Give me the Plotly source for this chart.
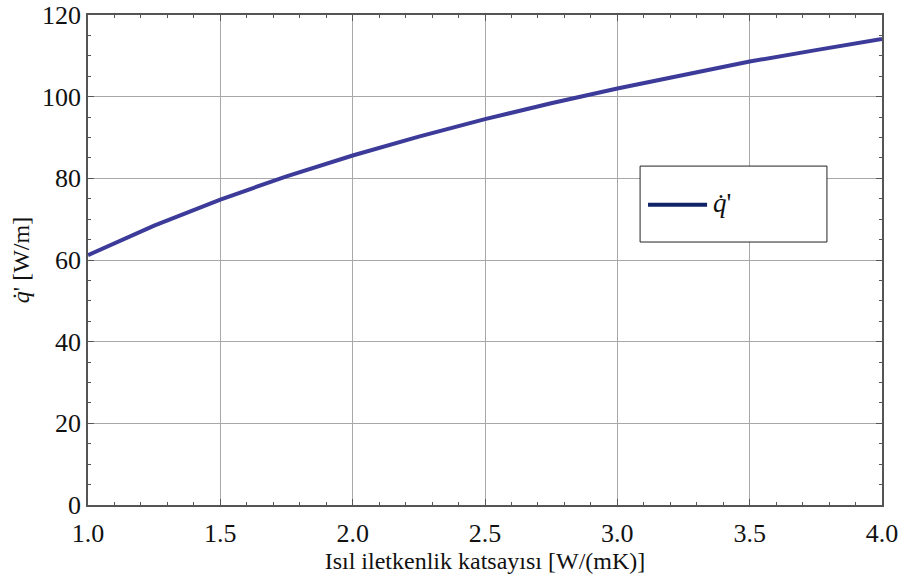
import plotly.graph_objects as go

# Thermal conductivity (W/(mK)) and heat transfer per unit length (W/m)
conductivity = [1.0, 1.25, 1.5, 1.75, 2.0, 2.25, 2.5, 2.75, 3.0, 3.25, 3.5, 3.75, 4.0]
heat_rate = [61.2, 68.4, 74.8, 80.5, 85.6, 90.2, 94.5, 98.4, 102.0, 105.4, 108.6, 111.4, 114.1]

x_ticks = [1.0, 1.5, 2.0, 2.5, 3.0, 3.5, 4.0]
x_tick_labels = ["1.0", "1.5", "2.0", "2.5", "3.0", "3.5", "4.0"]
y_ticks = [0, 20, 40, 60, 80, 100, 120]
y_tick_labels = ["0", "20", "40", "60", "80", "100", "120"]

legend_label = "<i>q̇</i>'"
x_title = "Isıl iletkenlik katsayısı [W/(mK)]"
y_title = "<i>q̇</i>' [W/m]"

serif = "Liberation Serif, Times New Roman, DejaVu Serif, serif"

fig = go.Figure()
fig.add_trace(go.Scatter(
    x=conductivity, y=heat_rate, mode="lines",
    line=dict(color="#3d3b99", width=4),
    showlegend=False,
))

axis_common = dict(
    showline=True, linecolor="#555555", linewidth=1.5, mirror="allticks",
    showgrid=True, gridcolor="#a8a8a8", gridwidth=1,
    ticks="inside", ticklen=6, tickcolor="#555555",
    tickfont=dict(family=serif, size=26, color="#111111"),
    zeroline=False, automargin=False,
)

fig.update_xaxes(
    range=[1.0, 4.0], tickvals=x_ticks, ticktext=x_tick_labels,
    minor=dict(ticks="inside", ticklen=3, dtick=0.1, tickcolor="#555555", showgrid=False),
    title=dict(text=x_title, font=dict(family=serif, size=24, color="#111111"), standoff=2),
    ticklabelstandoff=4,
    **axis_common,
)
fig.update_yaxes(
    range=[0, 120], tickvals=y_ticks, ticktext=y_tick_labels,
    minor=dict(ticks="inside", ticklen=3, dtick=5, tickcolor="#555555", showgrid=False),
    title=dict(text=y_title, font=dict(family=serif, size=24, color="#111111"), standoff=6),
    **axis_common,
)

# Boxed legend inside the plot area
fig.add_shape(type="rect", xref="x", yref="y", x0=3.086, x1=3.792, y0=64.4, y1=83.0,
              line=dict(color="#222222", width=1), fillcolor="white", layer="above")
fig.add_shape(type="line", xref="x", yref="y", x0=3.116, x1=3.339, y0=73.5, y1=73.5,
              line=dict(color="#0f2366", width=4), layer="above")
fig.add_annotation(x=3.352, y=74.0, xref="x", yref="y", text=legend_label, showarrow=False,
                   xanchor="left", yanchor="middle",
                   font=dict(family=serif, size=27, color="#111111"))

fig.update_layout(
    width=905, height=583,
    margin=dict(l=88, r=23, t=15, b=78),
    paper_bgcolor="white", plot_bgcolor="white",
    font=dict(family=serif),
)

fig.write_html("out.html")
